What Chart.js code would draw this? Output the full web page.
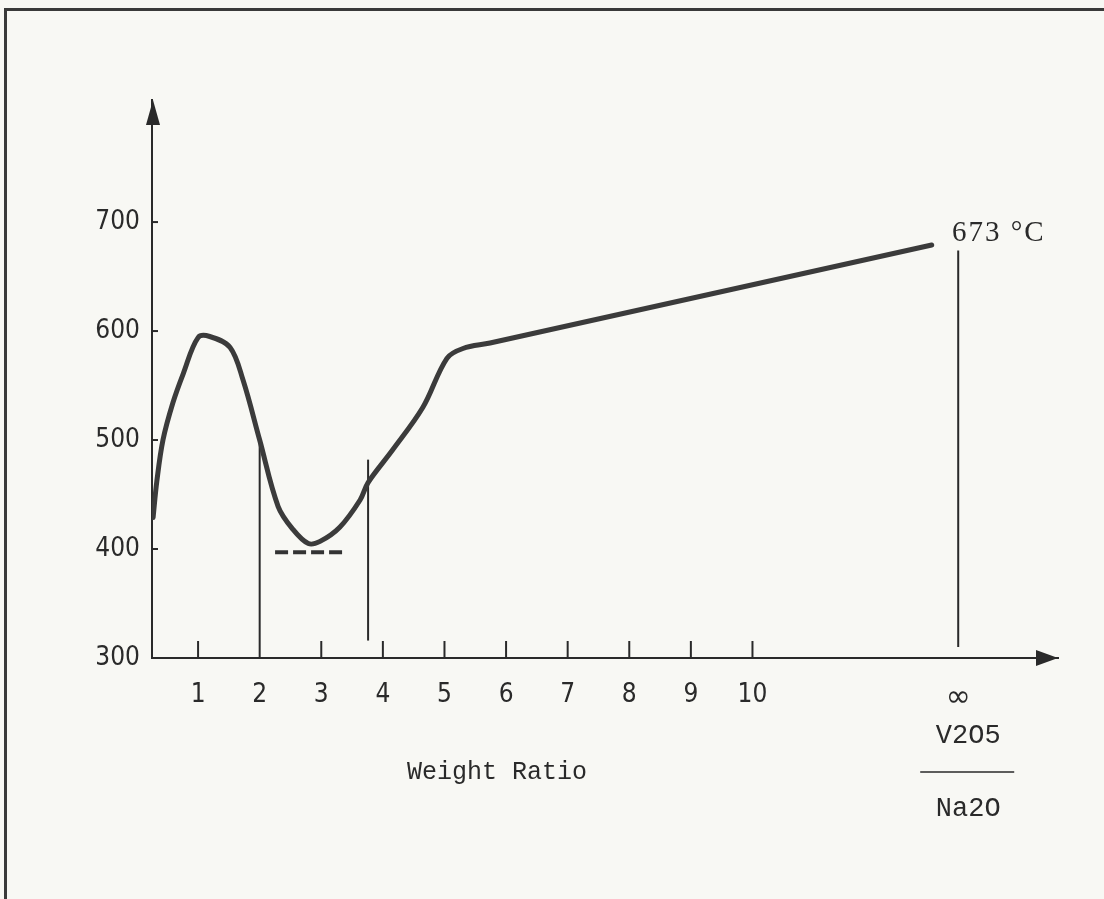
<!DOCTYPE html>
<html>
<head>
<meta charset="utf-8">
<title>Weight Ratio V2O5 / Na2O</title>
<script src="https://cdn.jsdelivr.net/npm/chart.js@4.4.1/dist/chart.umd.min.js"></script>
<style>
  html, body { margin: 0; padding: 0; background: #f8f8f4; }
  #frame {
    position: absolute; left: 4px; top: 8px; width: 1100px; height: 891px;
    border-top: 3px solid #3a3a3a; border-left: 3px solid #3a3a3a;
  }
  #wrap { position: absolute; left: 0; top: 0; width: 1104px; height: 899px; }
</style>
</head>
<body>
<div id="frame"></div>
<div id="wrap"><canvas id="meltChart" width="1104" height="899"></canvas></div>
<script>
//////////////////
// Melting point vs weight ratio V2O5 / Na2O

// main curve
var curveX = [0.27, 0.33, 0.43, 0.59, 0.76, 1.00, 1.19, 1.52, 1.73, 2.00, 2.30, 2.54, 2.79, 2.98, 3.30, 3.63, 3.76, 4.16, 4.65, 5.04, 5.30, 5.74, 12.91];
var curveY = [429, 462, 500, 534, 561, 594, 595, 585, 555, 500, 439, 418, 405, 407, 420, 445, 461, 491, 530, 575, 584, 589, 679];

// vertical marker lines: x, bottom, top
var markerX   = [2.0, 3.76, 13.34];
var markerLow = [300, 316, 310];
var markerTop = [500, 482, 674];

// dashed line under the minimum
var dashX = [2.25, 3.38];
var dashY = 397;

// axis ticks
var xTickVals   = [1, 2, 3, 4, 5, 6, 7, 8, 9, 10, 13.34];
var xTickLabels = ["1", "2", "3", "4", "5", "6", "7", "8", "9", "10", "\u221E"];
var yTickVals   = [300, 400, 500, 600, 700];

var endLabel = "673 \u00B0C";
var xTitle = "Weight Ratio";
var fracTop = "V2O5";
var fracBottom = "Na2O";

var ink = "#2a2a2a";
var curveColor = "#3b3b3b";

var curvePoints = curveX.map(function(x, i){ return {x: x, y: curveY[i]}; });

var datasets = [{
    data: curvePoints,
    borderColor: curveColor,
    borderWidth: 5,
    pointRadius: 0,
    showLine: true,
    tension: 0.35,
    borderCapStyle: 'round',
    borderJoinStyle: 'round'
}];

markerX.forEach(function(x, i){
  datasets.push({
    data: [{x: x, y: markerLow[i]}, {x: x, y: markerTop[i]}],
    borderColor: ink,
    borderWidth: 2,
    pointRadius: 0,
    showLine: true
  });
});

datasets.push({
  data: [{x: dashX[0], y: dashY}, {x: dashX[1], y: dashY}],
  borderColor: "#333",
  borderWidth: 4,
  borderDash: [13, 5],
  pointRadius: 0,
  showLine: true
});

// ticks, arrows and loose texts
var decorPlugin = {
  id: 'decor',
  afterDraw: function(chart){
    var c = chart.ctx, xs = chart.scales.x, ys = chart.scales.y;
    var x0 = xs.left, y0 = ys.bottom;
    c.save();
    c.strokeStyle = ink;
    c.fillStyle = ink;
    c.lineWidth = 2;

    // x tick marks pointing up
    xTickVals.forEach(function(v){
      if (markerX.indexOf(v) >= 0) return;
      var px = xs.getPixelForValue(v);
      c.beginPath(); c.moveTo(px, y0); c.lineTo(px, y0 - 17); c.stroke();
    });
    // y tick marks pointing right
    yTickVals.forEach(function(v){
      if (v === 300) return;
      var py = ys.getPixelForValue(v);
      c.beginPath(); c.moveTo(x0, py); c.lineTo(x0 + 6, py); c.stroke();
    });

    // arrow heads
    c.beginPath();
    c.moveTo(x0 + 1, ys.top); c.lineTo(x0 - 6, ys.top + 25); c.lineTo(x0 + 8, ys.top + 25);
    c.closePath(); c.fill();
    c.beginPath();
    c.moveTo(xs.right, y0); c.lineTo(xs.right - 22, y0 - 8); c.lineTo(xs.right - 22, y0 + 8);
    c.closePath(); c.fill();

    // end value
    c.font = "29px 'Liberation Serif', serif";
    c.letterSpacing = "2px";
    c.textAlign = 'left';
    c.textBaseline = 'middle';
    c.fillText(endLabel, 952, 233);
    c.letterSpacing = "0px";

    // axis title and ratio
    c.font = "25px 'Liberation Mono', monospace";
    c.textAlign = 'center';
    c.fillText(xTitle, 497, 772);
    var fx = xs.getPixelForValue(markerX[2]) + 10;
    c.font = "27px 'Liberation Mono', monospace";
    c.fillText(fracTop, fx, 736);
    c.fillText(fracBottom, fx, 809);
    c.lineWidth = 1.5;
    c.beginPath(); c.moveTo(fx - 48, 772); c.lineTo(fx + 46, 772); c.stroke();
    c.restore();
  }
};

var tickFamily = "'Liberation Sans Narrow', 'DejaVu Sans Condensed', sans-serif";

var meltConfig = {
  type: 'scatter',
  data: { datasets: datasets },
  options: {
    responsive: false,
    animation: false,
    layout: { padding: { left: 0, top: 100, right: 46, bottom: 191 } },
    plugins: { legend: { display: false }, tooltip: { enabled: false } },
    scales: {
      x: {
        type: 'linear',
        min: 0.252, max: 14.96,
        afterBuildTicks: function(scale){ scale.ticks = xTickVals.map(function(v){ return {value: v}; }); },
        afterFit: function(scale){ scale.height = 50; },
        grid: { display: false, drawTicks: false },
        border: { display: true, color: ink, width: 2 },
        ticks: {
          color: ink, padding: 22, maxRotation: 0, autoSkip: false,
          font: function(ctx){
            return ctx.index === xTickVals.length - 1 ? { family: "'DejaVu Sans', sans-serif", size: 30 } : { family: tickFamily, size: 26 };
          },
          callback: function(v, i){ return xTickLabels[i]; }
        }
      },
      y: {
        type: 'linear',
        min: 300, max: 812,
        afterBuildTicks: function(scale){ scale.ticks = yTickVals.map(function(v){ return {value: v}; }); },
        afterFit: function(scale){ scale.width = 152; },
        grid: { display: false, drawTicks: false },
        border: { display: true, color: ink, width: 2 },
        ticks: { color: ink, font: { family: tickFamily, size: 26 }, padding: 12 }
      }
    }
  },
  plugins: [decorPlugin]
};

var ctxMelt = document.getElementById('meltChart').getContext('2d');
var chartMelt = new Chart(ctxMelt, meltConfig);
</script>
</body>
</html>
